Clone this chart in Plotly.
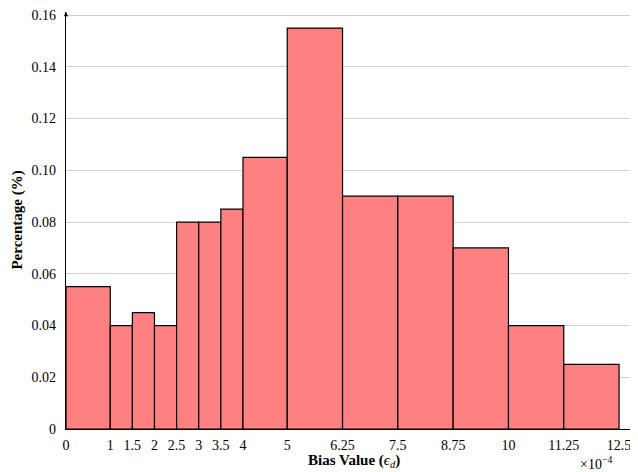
import plotly.graph_objects as go

bin_edges = [0, 1, 1.5, 2, 2.5, 3, 3.5, 4, 5, 6.25, 7.5, 8.75, 10, 11.25, 12.5]
percentages = [0.055, 0.04, 0.045, 0.04, 0.08, 0.08, 0.085, 0.105, 0.155, 0.09, 0.09, 0.07, 0.04, 0.025]
x_tick_vals = [0, 1, 1.5, 2, 2.5, 3, 3.5, 4, 5, 6.25, 7.5, 8.75, 10, 11.25, 12.5]
x_tick_text = ["0", "1", "1.5", "2", "2.5", "3", "3.5", "4", "5", "6.25", "7.5", "8.75", "10", "11.25", "12.5"]
y_tick_vals = [0, 0.02, 0.04, 0.06, 0.08, 0.10, 0.12, 0.14, 0.16]
y_tick_text = ["0", "0.02", "0.04", "0.06", "0.08", "0.10", "0.12", "0.14", "0.16"]

centers = [(a + b) / 2 for a, b in zip(bin_edges[:-1], bin_edges[1:])]
widths = [b - a for a, b in zip(bin_edges[:-1], bin_edges[1:])]

font = "Liberation Serif"

fig = go.Figure(go.Bar(
    x=centers, y=percentages, width=widths,
    marker=dict(color="#FF8080", line=dict(color="black", width=1.2)),
))

fig.update_layout(
    width=630, height=464,
    margin=dict(l=58, r=3, t=4, b=43, autoexpand=False),
    plot_bgcolor="white", paper_bgcolor="white",
    showlegend=False,
    font=dict(family=font, size=14, color="black"),
    xaxis=dict(range=[0, 12.86], tickvals=x_tick_vals, ticktext=x_tick_text,
               showgrid=False, zeroline=False, showline=True, linecolor="black", linewidth=1.2,
               ticks="outside", ticklen=3, tickcolor="rgba(0,0,0,0)",
               automargin=False, ticklabeloverflow="allow", tickfont=dict(size=14)),
    yaxis=dict(range=[0, 0.1612], tickvals=y_tick_vals, ticktext=y_tick_text,
               showgrid=True, gridcolor="#cfcfcf", gridwidth=1,
               zeroline=False, showline=True, linecolor="black", linewidth=1.2,
               ticks="outside", ticklen=6, tickcolor="rgba(0,0,0,0)",
               automargin=False, ticklabeloverflow="allow", tickfont=dict(size=14)),
    annotations=[
        dict(x=1, y=0, xref="paper", yref="paper", ax=-6, ay=0, axref="pixel", ayref="pixel",
             showarrow=True, arrowhead=2, arrowsize=0.7, arrowwidth=1.2, arrowcolor="black", text=""),
        dict(x=0, y=1, xref="paper", yref="paper", ax=0, ay=6, axref="pixel", ayref="pixel",
             showarrow=True, arrowhead=2, arrowsize=0.7, arrowwidth=1.2, arrowcolor="black", text=""),
        dict(x=0.506, y=-0.077, xref="paper", yref="paper", showarrow=False,
             text="<b>Bias Value (</b><i>ϵ<sub>d</sub></i><b>)</b>", font=dict(size=15),
             xanchor="center", yanchor="middle"),
        dict(x=-0.086, y=0.5, xref="paper", yref="paper", showarrow=False,
             text="<b>Percentage (%)</b>", textangle=-90, font=dict(size=15),
             xanchor="center", yanchor="middle"),
        dict(x=0.931, y=-0.082, xref="paper", yref="paper", showarrow=False,
             text="×10<sup>−4</sup>", font=dict(size=14), xanchor="center", yanchor="middle"),
    ],
)

fig.write_html("out.html")
